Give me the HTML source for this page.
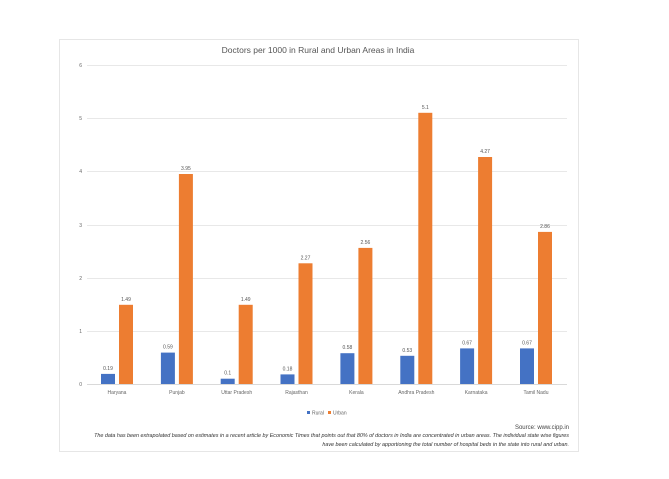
<!DOCTYPE html>
<html><head><style>
body{margin:0;background:#fff;width:669px;height:474px;overflow:hidden;font-family:"Liberation Sans",sans-serif;}
</style></head><body>
<svg width="669" height="474" xmlns="http://www.w3.org/2000/svg" font-family="Liberation Sans, sans-serif">
<rect x="59.5" y="39.5" width="519" height="412" fill="#fff" stroke="#e6e6e6"/>
<text x="318" y="53" font-size="8.5" fill="#555" text-anchor="middle">Doctors per 1000 in Rural and Urban Areas in India</text>
<g stroke="#e8e8e8" stroke-width="1">
<line x1="87" x2="567" y1="65.5" y2="65.5"/><line x1="87" x2="567" y1="118.5" y2="118.5"/>
<line x1="87" x2="567" y1="171.5" y2="171.5"/><line x1="87" x2="567" y1="225.5" y2="225.5"/>
<line x1="87" x2="567" y1="278.5" y2="278.5"/><line x1="87" x2="567" y1="331.5" y2="331.5"/>
</g>
<line x1="87" x2="567" y1="384.5" y2="384.5" stroke="#d9d9d9"/>
<g font-size="5" fill="#666" text-anchor="end">
<text x="82" y="67">6</text><text x="82" y="120">5</text><text x="82" y="173">4</text>
<text x="82" y="227">3</text><text x="82" y="280">2</text><text x="82" y="333">1</text><text x="82" y="386">0</text>
</g>
<g fill="#4472c4">
<rect x="101" y="373.9" width="14" height="10.1"/>
<rect x="160.9" y="352.6" width="14" height="31.4"/>
<rect x="220.7" y="378.7" width="14" height="5.3"/>
<rect x="280.5" y="374.4" width="14" height="9.6"/>
<rect x="340.4" y="353.2" width="14" height="30.8"/>
<rect x="400.3" y="355.8" width="14" height="28.2"/>
<rect x="460.1" y="348.4" width="14" height="35.6"/>
<rect x="520" y="348.4" width="14" height="35.6"/>
</g>
<g fill="#ed7d31">
<rect x="119" y="304.8" width="14" height="79.2"/>
<rect x="178.9" y="174" width="14" height="210"/>
<rect x="238.7" y="304.8" width="14" height="79.2"/>
<rect x="298.5" y="263.3" width="14" height="120.7"/>
<rect x="358.4" y="247.9" width="14" height="136.1"/>
<rect x="418.3" y="112.8" width="14" height="271.2"/>
<rect x="478.1" y="157" width="14" height="227"/>
<rect x="538" y="231.9" width="14" height="152.1"/>
</g>
<g font-size="5" fill="#555" text-anchor="middle">
<text x="108" y="370">0.19</text><text x="126" y="301">1.49</text>
<text x="167.9" y="348.6">0.59</text><text x="185.9" y="170">3.95</text>
<text x="227.7" y="374.7">0.1</text><text x="245.7" y="301">1.49</text>
<text x="287.5" y="370.4">0.18</text><text x="305.5" y="259.3">2.27</text>
<text x="347.4" y="349.2">0.58</text><text x="365.4" y="243.9">2.56</text>
<text x="407.3" y="351.8">0.53</text><text x="425.3" y="108.8">5.1</text>
<text x="467.1" y="344.4">0.67</text><text x="485.1" y="153">4.27</text>
<text x="527" y="344.4">0.67</text><text x="545" y="227.9">2.86</text>
</g>
<g font-size="5" fill="#666" text-anchor="middle">
<text x="117" y="394">Haryana</text><text x="176.9" y="394">Punjab</text>
<text x="236.7" y="394">Uttar Pradesh</text><text x="296.5" y="394">Rajasthan</text>
<text x="356.4" y="394">Kerala</text><text x="416.3" y="394">Andhra Pradesh</text>
<text x="476.1" y="394">Karnataka</text><text x="536" y="394">Tamil Nadu</text>
</g>
<rect x="307" y="411" width="3" height="3" fill="#4472c4"/><text x="312" y="414.5" font-size="5" fill="#666">Rural</text>
<rect x="328" y="411" width="3" height="3" fill="#ed7d31"/><text x="333" y="414.5" font-size="5" fill="#666">Urban</text>
<text x="569" y="429" font-size="6" fill="#444" text-anchor="end">Source: www.cipp.in</text>
<text x="569" y="437" font-size="5.4" fill="#333" font-style="italic" text-anchor="end">The data has been extrapolated based on estimates in a recent article by Economic Times that points out that 80% of doctors in India are concentrated in urban areas. The individual state wise figures</text>
<text x="569" y="446" font-size="5.4" fill="#333" font-style="italic" text-anchor="end">have been calculated by apportioning the total number of hospital beds in the state into rural and urban.</text>
</svg>
</body></html>
